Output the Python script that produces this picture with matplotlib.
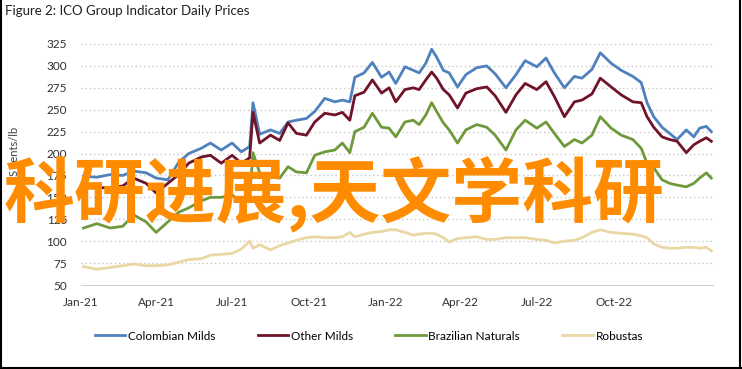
import matplotlib.pyplot as plt
import matplotlib.dates as mdates
import pandas as pd

# ICO group indicator prices (US cents/lb)
dates = pd.to_datetime([
    "2021-01-04", "2021-01-20", "2021-02-05", "2021-02-20", "2021-03-05", "2021-03-20",
    "2021-04-01", "2021-04-15", "2021-04-28", "2021-05-10", "2021-05-25", "2021-06-05",
    "2021-06-18", "2021-07-01", "2021-07-12", "2021-07-22", "2021-07-26", "2021-08-03",
    "2021-08-16", "2021-08-27", "2021-09-06", "2021-09-16", "2021-09-28", "2021-10-08",
    "2021-10-20", "2021-11-01", "2021-11-10", "2021-11-19", "2021-11-25", "2021-12-06",
    "2021-12-16", "2021-12-27", "2022-01-05", "2022-01-13", "2022-01-24", "2022-02-03",
    "2022-02-10", "2022-02-18", "2022-02-25", "2022-03-03", "2022-03-11", "2022-03-18",
    "2022-03-28", "2022-04-07", "2022-04-20", "2022-05-02", "2022-05-12", "2022-05-25",
    "2022-06-06", "2022-06-17", "2022-07-01", "2022-07-12", "2022-07-22", "2022-08-03",
    "2022-08-15", "2022-08-24", "2022-09-05", "2022-09-15", "2022-09-28", "2022-10-10",
    "2022-10-24", "2022-11-03", "2022-11-10", "2022-11-18", "2022-11-28", "2022-12-07",
    "2022-12-16", "2022-12-27", "2023-01-05", "2023-01-12", "2023-01-20", "2023-01-26",
])

colombian = [174, 173, 176, 175, 180, 178, 172, 170, 190, 200, 206, 212,
             204, 212, 202, 208, 258, 222, 227, 223, 236, 238, 240, 248,
             263, 259, 261, 259, 287, 292, 304, 287, 293, 280, 299, 295,
             292, 303, 319, 310, 295, 292, 276, 290, 298, 300, 291, 275,
             290, 306, 299, 309, 292, 275, 288, 286, 296, 315, 303, 295,
             288, 281, 258, 242, 230, 223, 216, 227, 219, 229, 231, 225]
other_milds = [162, 161, 161, 163, 172, 166, 155, 166, 176, 189, 196, 198,
               189, 198, 189, 195, 247, 212, 221, 215, 235, 223, 221, 236,
               246, 244, 247, 238, 266, 270, 284, 269, 275, 259, 273, 275,
               273, 284, 293, 286, 273, 267, 252, 269, 274, 276, 266, 247,
               267, 280, 273, 282, 265, 242, 259, 261, 268, 286, 276, 267,
               259, 258, 242, 230, 219, 216, 214, 201, 210, 214, 218, 214]
brazilian = [115, 120, 115, 117, 130, 122, 110, 122, 133, 138, 146, 150,
             150, 153, 144, 150, 201, 178, 173, 172, 185, 179, 178, 198,
             202, 204, 212, 201, 225, 230, 246, 230, 229, 219, 236, 238,
             233, 244, 258, 248, 235, 227, 212, 227, 233, 230, 221, 204,
             227, 238, 229, 236, 223, 208, 216, 212, 221, 242, 229, 221,
             216, 206, 189, 184, 170, 166, 164, 162, 166, 172, 178, 172]
robustas = [71, 68, 70, 72, 74, 72, 72, 73, 76, 79, 80, 84,
            85, 86, 91, 100, 92, 96, 90, 95, 98, 101, 104, 105,
            104, 104, 105, 110, 105, 108, 110, 111, 113, 113, 110, 107,
            108, 109, 109, 108, 104, 99, 103, 104, 105, 102, 102, 104,
            104, 104, 102, 101, 98, 100, 101, 104, 110, 113, 110, 109,
            108, 106, 104, 97, 93, 92, 92, 93, 93, 92, 93, 89]

series_names = ["Colombian Milds", "Other Milds", "Brazilian Naturals", "Robustas"]
series_colors = ["#4F81BD", "#701228", "#6E9A3C", "#EAD7A6"]
tick_dates = pd.to_datetime(["2021-01-01", "2021-04-01", "2021-07-01", "2021-10-01",
                             "2022-01-01", "2022-04-01", "2022-07-01", "2022-10-01"])
y_ticks = list(range(50, 326, 25))

plt.rcParams['font.family'] = ['Lato', 'DejaVu Sans']

fig = plt.figure(figsize=(7.42, 3.69), dpi=100)
ax = fig.add_axes([81 / 742, 1 - 285 / 369, 632 / 742, 241 / 369])

for vals, name, col in zip([colombian, other_milds, brazilian, robustas], series_names, series_colors):
    ax.plot(dates, vals, color=col, lw=2.0, label=name, solid_joinstyle='round')

ax.set_ylim(50, 325)
ax.set_xlim(pd.Timestamp("2021-01-01"), pd.Timestamp("2023-01-28"))
ax.set_yticks(y_ticks)
ax.set_xticks(tick_dates)
ax.xaxis.set_major_formatter(mdates.DateFormatter("%b-%y"))
ax.tick_params(length=0, labelsize=8.5, colors="#303030")
ax.tick_params(axis='y', pad=10)
ax.tick_params(axis='x', pad=9)
for yv in y_ticks[1:]:
    ax.axhline(yv, color="#c8c8c8", lw=1, ls=(0, (1, 2)), zorder=0)
for side in ["top", "right", "left"]:
    ax.spines[side].set_visible(False)
ax.spines["bottom"].set_color("#d0d0d0")

fig.text(0.007, 1 - 11 / 369, "Figure 2: ICO Group Indicator Daily Prices",
         fontsize=9.5, va='center', ha='left', color="#202020")
fig.text(14 / 742, 1 - 155 / 369, "US cents/lb", rotation=90, fontsize=8,
         va='center', ha='center', color="#404040")

fig.legend(loc='center', bbox_to_anchor=(0.497, 1 - 336 / 369), ncol=4, frameon=False,
           fontsize=8.5, handlelength=2.6, handletextpad=0.2, columnspacing=3.6)

# big overlay caption
fig.text(4 / 742, 1 - 195 / 369, "科研进展,天文学科研", fontsize=51,
         family=['Noto Sans CJK SC', 'DejaVu Sans'], fontweight='bold',
         color="#FF8C00", va='center', ha='left', zorder=10)

# frame around the figure
for xs, ys in [([1, 1], [0, 369]), ([740, 740], [0, 369]), ([0, 742], [367.5, 367.5])]:
    fig.add_artist(plt.Line2D([x / 742 for x in xs], [1 - y / 369 for y in ys],
                              color="black", lw=1.5))

fig.savefig("out.png", dpi=100)
